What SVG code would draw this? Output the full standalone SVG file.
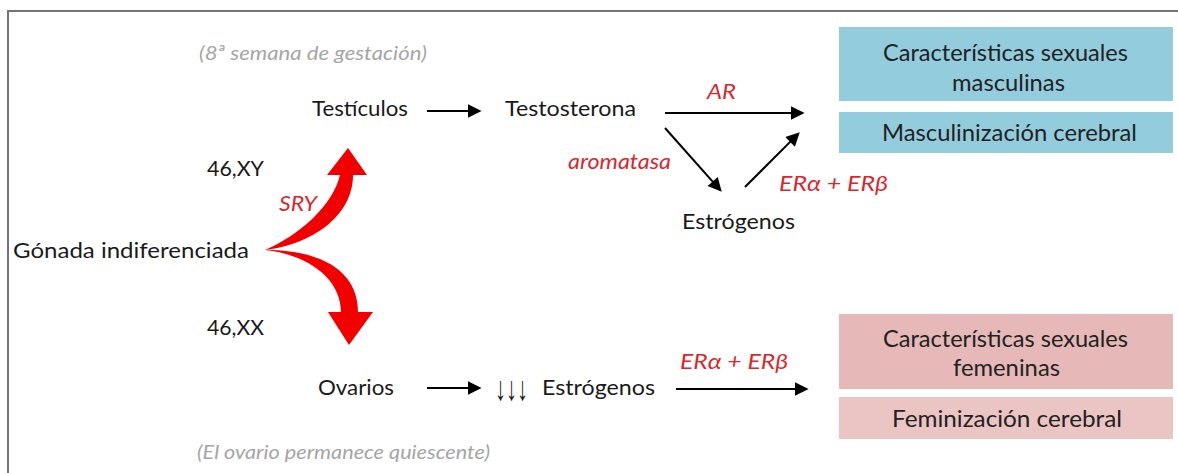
<svg xmlns="http://www.w3.org/2000/svg" width="1178" height="473" viewBox="0 0 1178 473">
  <style>
    .t { font-family: Lato, "Open Sans", "Liberation Sans", sans-serif; font-size: 21.5px; fill: #1a1a1a; }
    .bx { font-family: Lato, "Open Sans", "Liberation Sans", sans-serif; font-size: 23px; fill: #222222; }
    .red { font-family: Lato, "Open Sans", "Liberation Sans", sans-serif; font-size: 21.5px; font-style: italic; fill: #d8282e; }
    .cap { font-family: Lato, "Open Sans", "Liberation Sans", sans-serif; font-size: 20px; font-style: italic; fill: #a5a5a5; }
    .blue { fill: #93cddd; }
    .pink1 { fill: #e6b9b8; }
    .pink2 { fill: #ebc4c4; }
    .conn { stroke: #000000; stroke-width: 2; fill: none; marker-end: url(#ah); }
    .bigred { fill: #f20000; }
  </style>
  <defs>
    <marker id="ah" viewBox="0 0 10 10" refX="8.1" refY="5" markerWidth="8" markerHeight="6.8" orient="auto" markerUnits="strokeWidth">
      <path d="M0,0 L10,5 L0,10 Z" fill="#000000"/>
    </marker>
  </defs>
  <rect x="0" y="0" width="1178" height="473" fill="#ffffff"/>
  <path id="frame" d="M1178,11 H8 V473" fill="none" stroke="#747474" stroke-width="2"/>

  <text class="cap" x="199" y="60" textLength="228" lengthAdjust="spacingAndGlyphs">(8ª semana de gestación)</text>
  <text class="cap" x="197" y="459" textLength="293" lengthAdjust="spacingAndGlyphs">(El ovario permanece quiescente)</text>

  <g id="gonada"><text class="t" x="13" y="258" textLength="236" lengthAdjust="spacingAndGlyphs">Gónada indiferenciada</text></g>
  <g id="xy"><text class="t" x="207" y="176" textLength="57" lengthAdjust="spacingAndGlyphs">46,XY</text></g>
  <g id="xx"><text class="t" x="207" y="335" textLength="57" lengthAdjust="spacingAndGlyphs">46,XX</text></g>
  <g id="testiculos"><text class="t" x="312" y="116" textLength="96" lengthAdjust="spacingAndGlyphs">Testículos</text></g>
  <g id="testosterona"><text class="t" x="505" y="116" textLength="131" lengthAdjust="spacingAndGlyphs">Testosterona</text></g>
  <g id="estrogenos1"><text class="t" x="682" y="229" textLength="113" lengthAdjust="spacingAndGlyphs">Estrógenos</text></g>
  <g id="ovarios"><text class="t" x="318" y="395" textLength="76" lengthAdjust="spacingAndGlyphs">Ovarios</text></g>
  <g id="estrogenos2">
    <text x="495" y="400" font-family="'Liberation Sans', 'DejaVu Sans', sans-serif" font-size="34" fill="#1a1a1a" textLength="33" lengthAdjust="spacingAndGlyphs">↓↓↓</text>
    <text class="t" x="542" y="395" textLength="113" lengthAdjust="spacingAndGlyphs">Estrógenos</text>
  </g>

  <g id="box-masc">
    <rect class="blue" x="839" y="27" width="334" height="74"/>
    <text class="bx" x="883" y="61" textLength="245" lengthAdjust="spacingAndGlyphs">Características sexuales</text>
    <text class="bx" x="952" y="91" textLength="113" lengthAdjust="spacingAndGlyphs">masculinas</text>
  </g>
  <g id="box-mascb">
    <rect class="blue" x="839" y="112" width="334" height="41"/>
    <text class="bx" x="882" y="141" textLength="255" lengthAdjust="spacingAndGlyphs">Masculinización cerebral</text>
  </g>
  <g id="box-fem">
    <rect class="pink1" x="839" y="314" width="334" height="75"/>
    <text class="bx" x="883" y="347" textLength="245" lengthAdjust="spacingAndGlyphs">Características sexuales</text>
    <text class="bx" x="953" y="376" textLength="107" lengthAdjust="spacingAndGlyphs">femeninas</text>
  </g>
  <g id="box-femb">
    <rect class="pink2" x="839" y="397" width="334" height="42"/>
    <text class="bx" x="892" y="427" textLength="230" lengthAdjust="spacingAndGlyphs">Feminización cerebral</text>
  </g>

  <g id="connectors">
    <path class="bigred" d="M265,250 C300,235 333,205 340,175 L327,175 L348,148 L367,175 L353,175 C353,217 310,245 265,250 Z"/>
    <path class="bigred" d="M265,250 C320,250 358,270 358,312 L373,312 L349,345 L328,312 L341,312 C341,280 310,255 265,250 Z"/>
    <text class="red" x="279" y="211" textLength="38" lengthAdjust="spacingAndGlyphs">SRY</text>

    <line class="conn" x1="427" y1="111" x2="479" y2="111"/>
    <line class="conn" x1="665" y1="113" x2="802" y2="113"/>
    <text class="red" x="707" y="99" textLength="29" lengthAdjust="spacingAndGlyphs">AR</text>
    <line class="conn" x1="665" y1="128" x2="720" y2="189.8"/>
    <text class="red" x="568" y="169" textLength="103" lengthAdjust="spacingAndGlyphs">aromatasa</text>
    <line class="conn" x1="745" y1="187" x2="797.9" y2="134.1"/>
    <text class="red" x="779" y="191" textLength="109" lengthAdjust="spacingAndGlyphs">ERα + ERβ</text>

    <line class="conn" x1="427" y1="388" x2="479" y2="388"/>
    <line class="conn" x1="676" y1="389" x2="806" y2="389"/>
    <text class="red" x="680" y="369" textLength="108" lengthAdjust="spacingAndGlyphs">ERα + ERβ</text>
  </g>
</svg>
